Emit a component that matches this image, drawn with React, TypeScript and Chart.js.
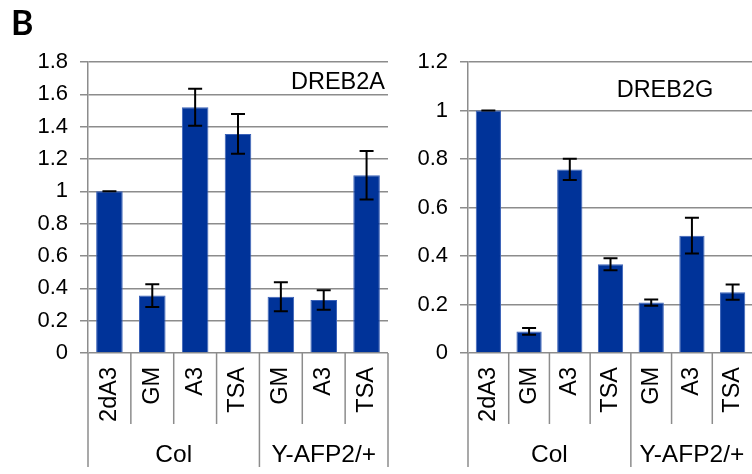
import { useEffect, useRef } from 'react';
import { Chart, registerables } from 'chart.js';

Chart.register(...registerables);

// Treatments, grouped by genotype
const CATEGORIES = ['2dA3', 'GM', 'A3', 'TSA', 'GM', 'A3', 'TSA'];
const GROUP_LABELS = ['Col', 'Y-AFP2/+'];
const GROUP_SIZES = [4, 3];

// DREB2A relative expression (mean ± error)
const DREB2A_VALUES = [1.0, 0.355, 1.52, 1.355, 0.348, 0.328, 1.1];
const DREB2A_ERRORS = [0, 0.07, 0.115, 0.123, 0.09, 0.06, 0.15];
const DREB2A_TICKS = ['0', '0.2', '0.4', '0.6', '0.8', '1', '1.2', '1.4', '1.6', '1.8'];

// DREB2G relative expression (mean ± error)
const DREB2G_VALUES = [1.0, 0.089, 0.757, 0.366, 0.208, 0.484, 0.251];
const DREB2G_ERRORS = [0, 0.014, 0.044, 0.025, 0.013, 0.074, 0.031];
const DREB2G_TICKS = ['0', '0.2', '0.4', '0.6', '0.8', '1', '1.2'];

const FONT = '"Liberation Sans", Arial, sans-serif';
const GRID = '#8c8c8c';
const BAR = '#003399';

const errorBarPlugin = {
  id: 'errorBars',
  afterDatasetsDraw(chart: any, _args: any, opts: any) {
    const errors: number[] = opts.errors || [];
    const meta = chart.getDatasetMeta(0);
    const y = chart.scales.y;
    const values = chart.data.datasets[0].data as number[];
    const ctx = chart.ctx;
    ctx.save();
    ctx.strokeStyle = '#000';
    ctx.lineWidth = 2;
    meta.data.forEach((bar: any, i: number) => {
      const v = values[i];
      const e = errors[i] || 0;
      const top = y.getPixelForValue(v + e);
      const bot = y.getPixelForValue(v - e);
      const cx = bar.x;
      const hw = 7;
      ctx.beginPath();
      ctx.moveTo(cx, top);
      ctx.lineTo(cx, bot);
      ctx.moveTo(cx - hw, top);
      ctx.lineTo(cx + hw, top);
      ctx.moveTo(cx - hw, bot);
      ctx.lineTo(cx + hw, bot);
      ctx.stroke();
    });
    ctx.restore();
  },
};

const decorPlugin = {
  id: 'panelDecor',
  afterDraw(chart: any, _args: any, opts: any) {
    const ctx = chart.ctx;
    const area = chart.chartArea;
    const x = chart.scales.x;
    const base = area.bottom;
    ctx.save();

    // category separators below the axis, longer ones between genotype groups
    const boundaries = [0];
    GROUP_SIZES.forEach((s) => boundaries.push(boundaries[boundaries.length - 1] + s));
    ctx.strokeStyle = GRID;
    ctx.lineWidth = 1.5;
    for (let i = 0; i <= CATEGORIES.length; i++) {
      const px = x.getPixelForValue(i - 0.5);
      const long = boundaries.includes(i);
      ctx.beginPath();
      ctx.moveTo(px, base);
      ctx.lineTo(px, base + (long ? 114 : 71));
      ctx.stroke();
    }

    // genotype group labels
    ctx.fillStyle = '#000';
    ctx.font = `24.5px ${FONT}`;
    ctx.textAlign = 'center';
    ctx.textBaseline = 'alphabetic';
    GROUP_LABELS.forEach((label, g) => {
      const a = x.getPixelForValue(boundaries[g] - 0.5);
      const b = x.getPixelForValue(boundaries[g + 1] - 0.5);
      ctx.fillText(label, (a + b) / 2, base + 109);
    });

    // gene name inside the plot
    ctx.font = `23.5px ${FONT}`;
    ctx.textAlign = opts.titleAlign;
    const tx = opts.titleAlign === 'right' ? area.right + opts.titleDx : area.left + opts.titleDx;
    ctx.fillText(opts.title, tx, area.top + opts.titleDy);

    if (opts.letter) {
      ctx.font = `bold 34px Lato, ${FONT}`;
      ctx.textAlign = 'left';
      ctx.fillText(opts.letter, 11, 35);
    }
    ctx.restore();
  },
};

type PanelProps = {
  left: number;
  width: number;
  padRight: number;
  values: number[];
  errors: number[];
  ticks: string[];
  max: number;
  title: string;
  titleAlign: 'right' | 'center';
  titleDx: number;
  titleDy: number;
  letter?: string;
};

function Panel(p: PanelProps) {
  const ref = useRef<HTMLCanvasElement>(null);
  useEffect(() => {
    if (!ref.current) return;
    const chart = new Chart(ref.current, {
      type: 'bar',
      data: {
        labels: CATEGORIES,
        datasets: [
          {
            data: p.values,
            backgroundColor: BAR,
            borderColor: '#3b62b8',
            borderWidth: 1,
            categoryPercentage: 1,
            barPercentage: 0.62,
          },
        ],
      },
      options: {
        responsive: false,
        maintainAspectRatio: false,
        animation: false,
        layout: { padding: { top: 62, left: 0, right: p.padRight, bottom: 0 } },
        plugins: {
          legend: { display: false },
          tooltip: { enabled: false },
          errorBars: { errors: p.errors },
          panelDecor: {
            title: p.title,
            titleAlign: p.titleAlign,
            titleDx: p.titleDx,
            titleDy: p.titleDy,
            letter: p.letter,
          },
        } as any,
        scales: {
          x: {
            grid: { display: false, drawTicks: false },
            border: { display: false },
            ticks: {
              minRotation: 90,
              maxRotation: 90,
              autoSkip: false,
              padding: 14,
              color: '#000',
              font: { family: FONT, size: 23.5 },
            },
            afterFit: (scale: any) => {
              scale.height = 121;
              scale.paddingLeft = 0;
              scale.paddingRight = 0;
            },
          },
          y: {
            min: 0,
            max: p.max,
            ticks: {
              stepSize: 0.2,
              padding: 12,
              color: '#000',
              font: { family: FONT, size: 22 },
              callback: (_v: any, i: number) => p.ticks[i],
            },
            grid: { color: GRID, lineWidth: 1.5, tickLength: 8, drawTicks: true },
            border: { display: true, color: GRID, width: 1.5 },
            afterFit: (scale: any) => {
              scale.width = 88;
            },
          },
        },
      },
      plugins: [errorBarPlugin, decorPlugin],
    });
    return () => chart.destroy();
  }, []);
  return (
    <canvas
      ref={ref}
      width={p.width}
      height={474}
      style={{ position: 'absolute', left: p.left, top: 0, width: p.width, height: 474 }}
    />
  );
}

export default function App() {
  return (
    <div
      style={{
        position: 'fixed',
        left: 0,
        top: 0,
        width: 752,
        height: 474,
        overflow: 'hidden',
        background: '#fff',
      }}
    >
      <Panel
        left={0}
        width={400}
        padRight={12}
        values={DREB2A_VALUES}
        errors={DREB2A_ERRORS}
        ticks={DREB2A_TICKS}
        max={1.8}
        title="DREB2A"
        titleAlign="right"
        titleDx={-3}
        titleDy={27}
        letter="B"
      />
      <Panel
        left={380}
        width={376}
        padRight={3}
        values={DREB2G_VALUES}
        errors={DREB2G_ERRORS}
        ticks={DREB2G_TICKS}
        max={1.2}
        title="DREB2G"
        titleAlign="center"
        titleDx={197}
        titleDy={35}
      />
    </div>
  );
}
